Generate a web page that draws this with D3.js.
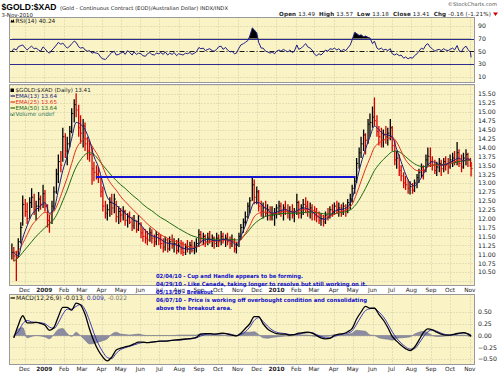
<!DOCTYPE html>
<html>
<head>
<meta charset="utf-8">
<script src="https://cdn.jsdelivr.net/npm/d3@7"></script>
<style>
  body { margin: 0; background: #fff; }
  svg { display: block; font-family: "DejaVu Sans", sans-serif; }
</style>
</head>
<body>
<svg id="chart" width="500" height="374"></svg>
<script>
// ---- data ----
// daily bars sampled twice a week (Tue / Fri), Nov 2008 .. 3-Nov-2010
const barHigh = [
  11.30, 11.20, 11.10, 11.45, 11.90, 12.65,
  12.55, 12.45, 12.60, 12.85, 12.70, 12.50, 12.75, 12.65, 12.95,
  12.80, 12.40, 12.10, 12.50, 12.90, 13.40, 13.80, 13.90, 14.55,
  14.40, 14.30, 14.60, 15.10, 15.35, 15.52, 15.20, 14.90,
  14.80, 14.70, 14.30, 14.20, 14.00, 13.60, 13.50, 13.45, 13.20,
  12.90, 12.50, 12.40, 12.60, 12.70, 12.70, 12.50, 12.35,
  12.30, 12.35, 12.25, 12.15, 12.20, 12.05, 12.10, 11.95, 12.10,
  11.90, 11.75, 11.70, 11.65, 11.75, 11.70, 11.55, 11.65, 11.60,
  11.55, 11.45, 11.50, 11.45, 11.50, 11.55, 11.45, 11.40, 11.45,
  11.40, 11.35, 11.30, 11.40, 11.35, 11.40, 11.35, 11.45,
  11.70, 11.65, 11.60, 11.55, 11.60, 11.65, 11.55, 11.50, 11.60,
  11.55, 11.65, 11.60, 11.55, 11.60, 11.50, 11.55, 11.45, 11.35,
  11.60, 11.85, 12.00, 12.20, 12.45, 12.60, 13.16, 13.10,
  12.90, 12.80, 12.50, 12.45, 12.50, 12.40, 12.35, 12.35, 12.30,
  12.40, 12.50, 12.45, 12.40, 12.50, 12.40, 12.35, 12.40, 12.30,
  12.70, 12.50, 12.40, 12.55, 12.60, 12.50, 12.45, 12.40,
  12.35, 12.30, 12.20, 12.15, 12.10, 12.20, 12.30, 12.35, 12.40,
  12.45, 12.50, 12.45, 12.40, 12.45, 12.40, 12.55, 12.70, 12.95,
  13.20, 13.70, 14.00, 14.30, 14.50, 14.40, 14.80, 14.95,
  15.15, 15.40, 14.90, 14.60, 14.55, 14.50, 14.60, 14.55, 14.80,
  14.60, 14.20, 13.90, 13.80, 13.50, 13.30, 13.20, 13.10, 13.05,
  13.00, 13.10, 13.25, 13.40, 13.55, 13.50, 13.80, 14.00, 14.00,
  13.75, 13.65, 13.60, 13.70, 13.65, 13.70, 13.75, 13.70,
  13.80, 13.85, 13.90, 14.15, 13.95, 13.80, 13.85, 13.95, 13.85,
  13.70, 13.57
];
const barLow = [
  10.85, 10.80, 10.25, 10.90, 11.30, 11.80,
  12.05, 11.85, 12.00, 12.30, 12.10, 11.95, 12.20, 12.25, 12.30,
  12.20, 11.75, 11.60, 11.85, 12.25, 12.70, 13.00, 13.30, 13.60,
  13.70, 13.50, 14.00, 14.40, 14.70, 14.85, 14.30, 14.10,
  14.00, 13.90, 13.65, 13.60, 12.95, 13.05, 13.10, 13.00, 12.60,
  12.20, 12.00, 11.95, 12.05, 12.10, 12.15, 11.90, 11.85,
  11.90, 11.95, 11.80, 11.75, 11.85, 11.65, 11.70, 11.60, 11.65,
  11.45, 11.35, 11.30, 11.25, 11.35, 11.30, 11.20, 11.25, 11.25,
  11.15, 11.05, 11.10, 11.05, 11.10, 11.15, 11.05, 11.00, 11.05,
  11.00, 10.95, 10.98, 11.05, 11.00, 11.05, 11.00, 11.05,
  11.20, 11.30, 11.25, 11.20, 11.25, 11.30, 11.20, 11.15, 11.20,
  11.20, 11.25, 11.30, 11.20, 11.25, 11.15, 11.20, 11.05, 11.02,
  11.20, 11.40, 11.60, 11.80, 12.00, 12.15, 12.50, 12.40,
  12.40, 12.20, 12.05, 12.00, 12.05, 11.95, 11.95, 11.95, 11.80,
  12.00, 12.10, 12.05, 11.95, 12.10, 12.00, 11.95, 12.00, 11.90,
  12.10, 12.00, 12.00, 12.10, 12.15, 12.05, 12.00, 11.95,
  11.95, 11.90, 11.85, 11.80, 11.78, 11.85, 11.95, 12.00, 12.05,
  12.10, 12.15, 12.05, 12.05, 12.10, 12.05, 12.15, 12.25, 12.45,
  12.70, 13.00, 13.40, 13.70, 13.90, 13.80, 14.10, 14.30,
  14.55, 14.60, 14.30, 14.05, 14.00, 14.00, 14.10, 14.05, 14.20,
  13.90, 13.50, 13.40, 13.20, 13.05, 12.85, 12.80, 12.70, 12.68,
  12.70, 12.75, 12.85, 13.00, 13.15, 13.10, 13.30, 13.50, 13.45,
  13.35, 13.25, 13.20, 13.30, 13.20, 13.30, 13.35, 13.25,
  13.40, 13.45, 13.50, 13.50, 13.45, 13.30, 13.40, 13.50, 13.45,
  13.45, 13.18
];
const barClose = [
  11.05, 10.95, 10.90, 11.35, 11.75, 12.40,
  12.20, 12.00, 12.45, 12.60, 12.25, 12.35, 12.55, 12.40, 12.70,
  12.35, 11.95, 11.90, 12.35, 12.75, 13.25, 13.60, 13.50, 14.30,
  13.90, 14.10, 14.45, 14.95, 15.20, 15.05, 14.55, 14.40,
  14.60, 14.10, 13.90, 13.80, 13.40, 13.30, 13.25, 13.15, 12.75,
  12.35, 12.15, 12.25, 12.45, 12.30, 12.55, 12.05, 12.20,
  12.10, 12.20, 11.95, 12.05, 11.90, 11.80, 11.95, 11.70, 11.85,
  11.60, 11.50, 11.45, 11.40, 11.60, 11.45, 11.35, 11.55, 11.40,
  11.30, 11.20, 11.40, 11.15, 11.35, 11.25, 11.30, 11.10, 11.25,
  11.15, 11.05, 11.20, 11.15, 11.25, 11.10, 11.20, 11.30,
  11.55, 11.45, 11.50, 11.35, 11.45, 11.40, 11.45, 11.30, 11.45,
  11.35, 11.50, 11.40, 11.45, 11.35, 11.30, 11.40, 11.15, 11.25,
  11.50, 11.75, 11.90, 12.05, 12.35, 12.50, 12.95, 12.60,
  12.75, 12.35, 12.20, 12.30, 12.15, 12.25, 12.05, 12.10, 12.15,
  12.30, 12.35, 12.20, 12.30, 12.25, 12.15, 12.20, 12.10, 12.20,
  12.45, 12.15, 12.30, 12.40, 12.35, 12.20, 12.30, 12.15,
  12.10, 12.05, 11.95, 12.00, 11.90, 12.10, 12.05, 12.25, 12.20,
  12.35, 12.25, 12.30, 12.20, 12.35, 12.25, 12.45, 12.55, 12.85,
  13.05, 13.55, 13.85, 14.10, 14.35, 14.20, 14.65, 14.70,
  14.85, 14.75, 14.45, 14.30, 14.20, 14.35, 14.30, 14.40, 14.55,
  14.05, 13.65, 13.70, 13.35, 13.20, 13.00, 12.95, 12.85, 12.90,
  12.80, 13.00, 13.15, 13.30, 13.45, 13.35, 13.65, 13.75, 13.60,
  13.50, 13.35, 13.45, 13.55, 13.40, 13.60, 13.50, 13.45,
  13.65, 13.70, 13.60, 13.85, 13.55, 13.45, 13.70, 13.80, 13.65,
  13.57, 13.41
];
const rsiValues = [
  50, 54, 52, 57, 59, 60,
  55, 52, 56, 58, 54, 55, 52, 50, 57,
  54, 49, 47, 52, 55, 60, 64, 61, 63,
  58, 55, 58, 62, 66, 64, 57, 55,
  56, 52, 50, 51, 47, 48, 47, 46, 40,
  38, 37, 40, 45, 48, 50, 44, 45,
  47, 49, 45, 51, 48, 44, 49, 45, 47,
  46, 43, 42, 46, 48, 45, 44, 47, 46,
  48, 45, 49, 44, 47, 45, 48, 43, 46,
  45, 44, 47, 46, 48, 45, 47, 49,
  56, 54, 55, 51, 53, 54, 51, 50, 53,
  57, 58, 53, 56, 52, 49, 50, 46, 47,
  55, 60, 62, 64, 67, 74, 87, 84,
  79, 64, 55, 55, 50, 49, 47, 49, 46,
  50, 52, 50, 53, 51, 49, 52, 48, 50,
  60, 53, 55, 58, 62, 57, 55, 52,
  45, 43, 46, 44, 48, 52, 50, 54, 53,
  55, 52, 54, 50, 53, 51, 55, 60, 68,
  80, 78, 75, 76, 73, 74, 72, 71,
  62, 66, 55, 53, 55, 52, 53, 51, 54,
  46, 44, 46, 43, 44, 39, 41, 38, 40,
  39, 43, 46, 50, 55, 53, 60, 62, 56,
  54, 50, 52, 53, 51, 54, 52, 51,
  53, 55, 52, 59, 51, 49, 55, 58, 53,
  48, 40.24
];

// weekly (Friday) readings of the moving averages and MACD, plus 3-Nov-2010
const ema13 = [
  11.05, 10.95, 11.45,
  11.80, 12.10, 12.25, 12.35,
  12.45, 12.15, 12.25, 12.80, 13.35,
  13.75, 14.25, 14.70, 14.65,
  14.50, 14.20, 13.75, 13.45,
  13.00, 12.60, 12.45, 12.38,
  12.25, 12.15, 12.05, 11.95, 11.90,
  11.75, 11.60, 11.52, 11.48,
  11.42, 11.33, 11.30, 11.28, 11.23,
  11.17, 11.14, 11.15, 11.20,
  11.35, 11.40, 11.42, 11.38,
  11.38, 11.42, 11.40, 11.36, 11.25,
  11.50, 11.80, 12.15, 12.45,
  12.45, 12.35, 12.25, 12.15,
  12.18, 12.23, 12.25, 12.20, 12.18,
  12.25, 12.30, 12.28, 12.20,
  12.10, 12.00, 11.98, 12.08,
  12.20, 12.25, 12.27, 12.33, 12.55,
  13.05, 13.55, 13.95, 14.30,
  14.60, 14.50, 14.38, 14.35,
  14.30, 13.95, 13.60, 13.25, 13.00,
  12.92, 13.05, 13.25, 13.50,
  13.60, 13.55, 13.50, 13.52,
  13.58, 13.65, 13.70, 13.62, 13.68,
  13.64
];
const ema25 = [
  11.05, 11.10, 11.30,
  11.55, 11.80, 11.95, 12.08,
  12.18, 12.12, 12.20, 12.45, 12.80,
  13.15, 13.55, 13.95, 14.15,
  14.25, 14.15, 13.95, 13.75,
  13.45, 13.15, 12.95, 12.80,
  12.62, 12.48, 12.35, 12.22, 12.10,
  11.98, 11.85, 11.75, 11.65,
  11.55, 11.48, 11.42, 11.38, 11.33,
  11.28, 11.23, 11.20, 11.20,
  11.25, 11.30, 11.35, 11.36,
  11.38, 11.40, 11.40, 11.38, 11.33,
  11.40, 11.58, 11.80, 12.05,
  12.15, 12.18, 12.18, 12.15,
  12.15, 12.18, 12.20, 12.20, 12.20,
  12.22, 12.25, 12.26, 12.24,
  12.18, 12.10, 12.04, 12.06,
  12.12, 12.18, 12.22, 12.27, 12.40,
  12.70, 13.05, 13.40, 13.70,
  14.00, 14.12, 14.20, 14.25,
  14.28, 14.15, 13.90, 13.65, 13.50,
  13.38, 13.34, 13.36, 13.45,
  13.50, 13.50, 13.50, 13.52,
  13.55, 13.60, 13.65, 13.63, 13.66,
  13.65
];
const ema50 = [
  10.80, 10.90, 11.05,
  11.20, 11.35, 11.50, 11.62,
  11.75, 11.85, 11.98, 12.20, 12.50,
  12.80, 13.15, 13.45, 13.65,
  13.80, 13.85, 13.80, 13.66,
  13.50, 13.35, 13.20, 13.07,
  12.95, 12.85, 12.73, 12.62, 12.52,
  12.40, 12.30, 12.22, 12.12,
  12.03, 11.96, 11.88, 11.80, 11.72,
  11.65, 11.58, 11.52, 11.48,
  11.44, 11.43, 11.42, 11.42,
  11.42, 11.42, 11.42, 11.41, 11.40,
  11.45, 11.55, 11.70, 11.85,
  11.95, 12.03, 12.08, 12.10,
  12.12, 12.14, 12.15, 12.15, 12.15,
  12.16, 12.17, 12.18, 12.18,
  12.17, 12.15, 12.13, 12.13,
  12.14, 12.16, 12.18, 12.21, 12.28,
  12.42, 12.62, 12.85, 13.10,
  13.35, 13.52, 13.66, 13.78,
  13.88, 13.90, 13.84, 13.74, 13.63,
  13.54, 13.48, 13.46, 13.48,
  13.50, 13.51, 13.52, 13.53,
  13.55, 13.57, 13.60, 13.62, 13.64,
  13.64
];
const macdLine = [
  -0.05, 0.22, 0.42,
  0.27, 0.27, 0.28, 0.26,
  0.22, 0.11, 0.17, 0.40, 0.60,
  0.60, 0.54, 0.69, 0.65,
  0.45, 0.14, -0.12, -0.32,
  -0.46, -0.54, -0.46, -0.31,
  -0.27, -0.24, -0.22, -0.18, -0.14,
  -0.14, -0.15, -0.14, -0.13,
  -0.12, -0.12, -0.11, -0.10, -0.09,
  -0.08, -0.07, -0.06, -0.04,
  0.03, 0.04, 0.04, 0.03,
  0.04, 0.05, 0.03, 0.01, -0.01,
  0.05, 0.15, 0.25, 0.40,
  0.40, 0.25, 0.14, 0.08,
  0.04, 0.03, 0.03, 0.01, 0.02,
  0.05, 0.06, 0.07, 0.05,
  0.00, -0.05, -0.07, -0.06,
  0.00, 0.03, 0.04, 0.08, 0.15,
  0.35, 0.50, 0.62, 0.58,
  0.58, 0.45, 0.33, 0.17,
  -0.02, -0.12, -0.21, -0.28, -0.32,
  -0.25, -0.10, 0.06, 0.14,
  0.12, 0.07, 0.03, 0.01,
  0.01, 0.03, 0.05, 0.06, 0.03,
  -0.013
];
const macdSignal = [
  0.00, 0.08, 0.25,
  0.32, 0.29, 0.28, 0.27,
  0.25, 0.18, 0.15, 0.27, 0.45,
  0.56, 0.56, 0.62, 0.66,
  0.55, 0.32, 0.05, -0.18,
  -0.35, -0.47, -0.49, -0.38,
  -0.30, -0.26, -0.23, -0.20, -0.17,
  -0.15, -0.15, -0.14, -0.13,
  -0.12, -0.12, -0.11, -0.10, -0.10,
  -0.09, -0.08, -0.07, -0.05,
  -0.01, 0.02, 0.03, 0.03,
  0.03, 0.04, 0.04, 0.02, 0.00,
  0.02, 0.08, 0.18, 0.32,
  0.38, 0.30, 0.20, 0.12,
  0.07, 0.05, 0.04, 0.02, 0.02,
  0.03, 0.05, 0.06, 0.06,
  0.02, -0.02, -0.05, -0.05,
  -0.02, 0.01, 0.03, 0.05, 0.10,
  0.24, 0.40, 0.53, 0.57,
  0.58, 0.50, 0.40, 0.25,
  0.08, -0.06, -0.16, -0.24, -0.29,
  -0.28, -0.17, -0.03, 0.08,
  0.12, 0.09, 0.05, 0.02,
  0.01, 0.02, 0.04, 0.05, 0.04,
  0.009
];

// axes and annotations
const priceTicks = [15.5, 15.25, 15, 14.75, 14.5, 14.25, 14, 13.75, 13.5, 13.25, 13, 12.75, 12.5,
  12.25, 12, 11.75, 11.5, 11.25, 11, 10.75, 10.5];
const rsiTicks = [90, 70, 50, 30, 10];
const macdTicks = [0.5, 0.25, 0, -0.25, -0.5];
const monthLabels = ['Dec', '2009', 'Feb', 'Mar', 'Apr', 'May', 'Jun', 'Jul', 'Aug', 'Sep', 'Oct', 'Nov',
  'Dec', '2010', 'Feb', 'Mar', 'Apr', 'May', 'Jun', 'Jul', 'Aug', 'Sep', 'Oct', 'Nov'];
const rimDates = [new Date(2009, 2, 23), new Date(2010, 4, 5)];
const rimLevel = 13.17;
const notes = [
  '02/04/10 - Cup and Handle appears to be forming.',
  '04/29/10 - Like Canada, taking longer to resolve but still working on it.',
  '05/13/10 - Breakout',
  '06/07/10 - Price is working off overbought condition and consolidating',
  'above the breakout area.'
];
const noteWidths = [147, 211, 57, 211, 76];

// category dates
const barDates = d3.timeDay.range(new Date(2008, 10, 10), new Date(2010, 10, 3))
  .filter(d => d.getDay() === 2 || d.getDay() === 5)
  .concat([new Date(2010, 10, 3)]);
const weekDates = d3.timeFriday.range(new Date(2008, 10, 14), new Date(2010, 9, 30))
  .concat([new Date(2010, 10, 3)]);
const monthDates = d3.timeMonth.range(new Date(2008, 11, 1), new Date(2010, 10, 2));

// ---- layout ----
const svg = d3.select('#chart');
const left = 9.5, right = 474.5;
const panelFill = '#faf3c6';
const gridColor = '#c4bfa2';
const rsiPanel = [17.5, 82.5], pricePanel = [84.5, 285.5], macdPanel = [294.5, 364.5];
const sans = '"DejaVu Sans", Verdana, sans-serif';

const x = d3.scaleTime()
  .domain([new Date(2008, 10, 8), new Date(2010, 10, 6)])
  .range([10, 473]);
const yR = d3.scaleLinear().domain([10, 90]).range([76.5, 26]);
const yP = d3.scaleLinear().domain([10.5, 15.5]).range([272, 94]);
const yM = d3.scaleLinear().domain([-0.5, 0.5]).range([359, 312]);

function panel(name, box) {
  const g = svg.append('g');
  g.append('rect')
    .attr('x', left).attr('y', box[0])
    .attr('width', right - left).attr('height', box[1] - box[0])
    .attr('fill', panelFill);
  svg.append('clipPath').attr('id', 'clip-' + name)
    .append('rect')
    .attr('x', left).attr('y', box[0])
    .attr('width', right - left).attr('height', box[1] - box[0]);
  // month grid
  g.selectAll('line.vgrid').data(monthDates).join('line')
    .attr('x1', d => Math.round(x(d)) + 0.5).attr('x2', d => Math.round(x(d)) + 0.5)
    .attr('y1', box[0]).attr('y2', box[1])
    .attr('stroke', gridColor).attr('stroke-width', 0.8).attr('stroke-dasharray', '1,2');
  return g;
}
function hgrid(g, scale, values) {
  g.selectAll(null).data(values).join('line')
    .attr('x1', left).attr('x2', right)
    .attr('y1', d => Math.round(scale(d)) + 0.5).attr('y2', d => Math.round(scale(d)) + 0.5)
    .attr('stroke', gridColor).attr('stroke-width', 0.8).attr('stroke-dasharray', '1,2');
}
function border(box) {
  svg.append('rect')
    .attr('x', left).attr('y', box[0])
    .attr('width', right - left).attr('height', box[1] - box[0])
    .attr('fill', 'none').attr('stroke', '#9a9a9a').attr('stroke-width', 1);
}
function rightAxis(scale, ticks, fmt) {
  const ax = svg.append('g')
    .attr('transform', `translate(${right},0)`)
    .call(d3.axisRight(scale).tickValues(ticks).tickFormat(fmt).tickSize(0).tickPadding(3.5));
  ax.select('.domain').remove();
  ax.selectAll('text')
    .attr('font-family', sans)
    .attr('font-size', 6.2).attr('fill', '#222');
}

// ---- header ----
svg.append('text').attr('x', 1.5).attr('y', 10)
  .attr('font-family', '"Liberation Sans", Arial, sans-serif')
  .attr('font-weight', 'bold').attr('font-size', 9.6).attr('fill', '#000')
  .attr('textLength', 55).attr('lengthAdjust', 'spacingAndGlyphs')
  .text('$GOLD:$XAD');
svg.append('text').attr('x', 60).attr('y', 9.5)
  .attr('font-family', sans)
  .attr('font-size', 5.2).attr('fill', '#222')
  .attr('textLength', 168).attr('lengthAdjust', 'spacingAndGlyphs')
  .text('(Gold - Continuous Contract (EOD)/Australian Dollar) INDX/INDX');
svg.append('text').attr('x', 1.5).attr('y', 16.5)
  .attr('font-family', sans)
  .attr('font-size', 5.4).attr('fill', '#222').text('3-Nov-2010');
svg.append('text').attr('x', 497).attr('y', 6).attr('text-anchor', 'end')
  .attr('font-family', sans)
  .attr('font-size', 5.2).attr('fill', '#555').text('\u00a9StockCharts.com');

const ohlc = svg.append('text').attr('x', 279).attr('y', 16)
  .attr('font-family', sans)
  .attr('font-size', 5.6).attr('fill', '#222')
  .attr('textLength', 212).attr('lengthAdjust', 'spacing');
[['Open', 1], [' 13.49  ', 0], ['High', 1], [' 13.57  ', 0], ['Low', 1], [' 13.18  ', 0],
 ['Close', 1], [' 13.41  ', 0], ['Chg', 1], [' -0.16 (-1.21%)', 0]].forEach(([t, b]) => {
  ohlc.append('tspan').attr('font-weight', b ? 'bold' : 'normal')
    .attr('xml:space', 'preserve').text(t);
});
svg.append('path').attr('d', 'M493,12.5 L498,12.5 L495.5,16 Z').attr('fill', '#d00000');

// ---- RSI panel ----
const gR = panel('rsi', rsiPanel);
hgrid(gR, yR, [10, 90]);
const rsiPts = barDates.map((d, i) => [d, rsiValues[i]]);
svg.append('clipPath').attr('id', 'clip-ob').append('rect')
  .attr('x', left).attr('y', rsiPanel[0]).attr('width', right - left)
  .attr('height', yR(70) - rsiPanel[0]);
gR.append('path').datum(rsiPts)
  .attr('clip-path', 'url(#clip-ob)')
  .attr('fill', '#000')
  .attr('d', d3.area().x(p => x(p[0])).y0(yR(70)).y1(p => yR(p[1])));
gR.selectAll(null).data([70, 30]).join('line')
  .attr('x1', left).attr('x2', right)
  .attr('y1', d => Math.round(yR(d)) + 0.5).attr('y2', d => Math.round(yR(d)) + 0.5)
  .attr('stroke', '#2c2c8c').attr('stroke-width', 1.1);
gR.append('line')
  .attr('x1', left).attr('x2', right)
  .attr('y1', Math.round(yR(50)) + 0.5).attr('y2', Math.round(yR(50)) + 0.5)
  .attr('stroke', '#000').attr('stroke-width', 0.9).attr('stroke-dasharray', '5,2,1,2');
gR.append('path').datum(rsiPts)
  .attr('clip-path', 'url(#clip-rsi)')
  .attr('fill', 'none').attr('stroke', '#1e1e80').attr('stroke-width', 1)
  .attr('d', d3.line().x(p => x(p[0])).y(p => yR(p[1])));
border(rsiPanel);
rightAxis(yR, rsiTicks, d3.format('d'));
gR.append('path').attr('d', 'M10.5,22.5 L11.5,19.5 L12.5,21 L13.5,19 L14.5,22.5 Z').attr('fill', '#000');
svg.append('text').attr('x', 15.5).attr('y', 22.6)
  .attr('font-family', sans).attr('font-size', 5.8).attr('fill', '#222')
  .text('RSI(14) 40.24');

// ---- price panel ----
const gP = panel('price', pricePanel);
hgrid(gP, yP, d3.range(10.25, 15.76, 0.25));
const bars = barDates.map((d, i) => ({
  d, hi: barHigh[i], lo: barLow[i], cl: barClose[i],
  up: i === 0 || barClose[i] >= barClose[i - 1]
}));
const gBars = gP.append('g').attr('clip-path', 'url(#clip-price)');
gBars.selectAll('line.hl').data(bars).join('line').attr('class', 'hl')
  .attr('x1', b => x(b.d)).attr('x2', b => x(b.d))
  .attr('y1', b => yP(b.hi)).attr('y2', b => yP(b.lo))
  .attr('stroke', b => b.up ? '#000' : '#d40000').attr('stroke-width', 1.3);
gBars.selectAll('line.cl').data(bars).join('line').attr('class', 'cl')
  .attr('x1', b => x(b.d)).attr('x2', b => x(b.d) + 1.6)
  .attr('y1', b => yP(b.cl)).attr('y2', b => yP(b.cl))
  .attr('stroke', b => b.up ? '#000' : '#d40000').attr('stroke-width', 0.9);

const emaLine = d3.line().x(p => x(p[0])).y(p => yP(p[1])).curve(d3.curveMonotoneX);
[[ema50, '#206b12'], [ema25, '#e0301a'], [ema13, '#1c1c7a']].forEach(([vals, col]) => {
  gP.append('path').datum(weekDates.map((d, i) => [d, vals[i]]))
    .attr('clip-path', 'url(#clip-price)')
    .attr('fill', 'none').attr('stroke', col).attr('stroke-width', 1)
    .attr('d', emaLine);
});
gP.append('line')
  .attr('x1', x(rimDates[0])).attr('x2', x(rimDates[1]))
  .attr('y1', yP(rimLevel)).attr('y2', yP(rimLevel))
  .attr('stroke', '#1414d2').attr('stroke-width', 2);
border(pricePanel);
rightAxis(yP, priceTicks, d3.format('.2f'));

const legend = [
  ['$GOLD:$XAD (Daily) 13.41', '#222', null],
  ['EMA(13) 13.64', '#1c1c7a', '#1c1c7a'],
  ['EMA(25) 13.65', '#e0301a', '#e0301a'],
  ['EMA(50) 13.64', '#206b12', '#206b12'],
  ['Volume undef', '#2f7a5a', null]
];
legend.forEach(([t, col, line], i) => {
  const yy = 92 + i * 6;
  if (line) {
    svg.append('line').attr('x1', 10.5).attr('x2', 15).attr('y1', yy - 2).attr('y2', yy - 2)
      .attr('stroke', line).attr('stroke-width', 1.2);
  }
  svg.append('text').attr('x', 15.5).attr('y', yy)
    .attr('font-family', sans).attr('font-size', 5.6).attr('fill', col)
    .text(t);
});
svg.append('path').attr('d', 'M10.5,88.5 h3.5 v3.5 h-3.5 Z').attr('fill', '#000');
svg.append('path').attr('d', 'M11,116 v-3 M12.5,116 v-2 M14,116 v-3.5').attr('stroke', '#2f7a5a').attr('stroke-width', 0.8);

// month labels under price panel and under MACD panel
[291.5, 371].forEach(yy => {
  svg.append('g').selectAll('text').data(monthDates).join('text')
    .attr('x', d => x(d)).attr('y', yy).attr('text-anchor', 'middle')
    .attr('font-family', sans)
    .attr('font-size', 5.8)
    .attr('font-weight', (d, i) => /^\d/.test(monthLabels[i]) ? 'bold' : 'normal')
    .attr('fill', '#222')
    .text((d, i) => monthLabels[i]);
});

// ---- MACD panel ----
const gM = panel('macd', macdPanel);
hgrid(gM, yM, macdTicks);
const macdPts = weekDates.map((d, i) => ({ d, m: macdLine[i], s: macdSignal[i] }));
gM.append('path').datum(macdPts)
  .attr('clip-path', 'url(#clip-macd)')
  .attr('fill', '#8c8ca0').attr('stroke', '#6e6e86').attr('stroke-width', 0.5)
  .attr('d', d3.area().x(p => x(p.d)).y0(yM(0)).y1(p => yM(p.m - p.s)).curve(d3.curveMonotoneX));
gM.append('path').datum(macdPts)
  .attr('clip-path', 'url(#clip-macd)')
  .attr('fill', 'none').attr('stroke', '#2a2ab4').attr('stroke-width', 0.9)
  .attr('d', d3.line().x(p => x(p.d)).y(p => yM(p.s)).curve(d3.curveMonotoneX));
gM.append('path').datum(macdPts)
  .attr('clip-path', 'url(#clip-macd)')
  .attr('fill', 'none').attr('stroke', '#000').attr('stroke-width', 1.3)
  .attr('d', d3.line().x(p => x(p.d)).y(p => yM(p.m)).curve(d3.curveMonotoneX));
border(macdPanel);
rightAxis(yM, macdTicks, d3.format('.2f'));
svg.append('line').attr('x1', 10.5).attr('x2', 15).attr('y1', 298).attr('y2', 298)
  .attr('stroke', '#000').attr('stroke-width', 1.2);
const ml = svg.append('text').attr('x', 16).attr('y', 300)
  .attr('font-family', sans).attr('font-size', 6);
ml.append('tspan').attr('fill', '#222').text('MACD(12,26,9) -0.013, ');
ml.append('tspan').attr('fill', '#2a2ab4').text('0.009, ');
ml.append('tspan').attr('fill', '#777').text('-0.022');

// ---- annotation ----
svg.append('g').selectAll('text').data(notes).join('text')
  .attr('x', 156).attr('y', (d, i) => [278, 286, 293.5, 302, 310][i])
  .attr('font-family', sans)
  .attr('font-weight', 'bold').attr('font-size', 5.6).attr('fill', '#1010c8')
  .attr('textLength', (d, i) => noteWidths[i]).attr('lengthAdjust', 'spacingAndGlyphs')
  .text(d => d);
</script>
</body>
</html>
